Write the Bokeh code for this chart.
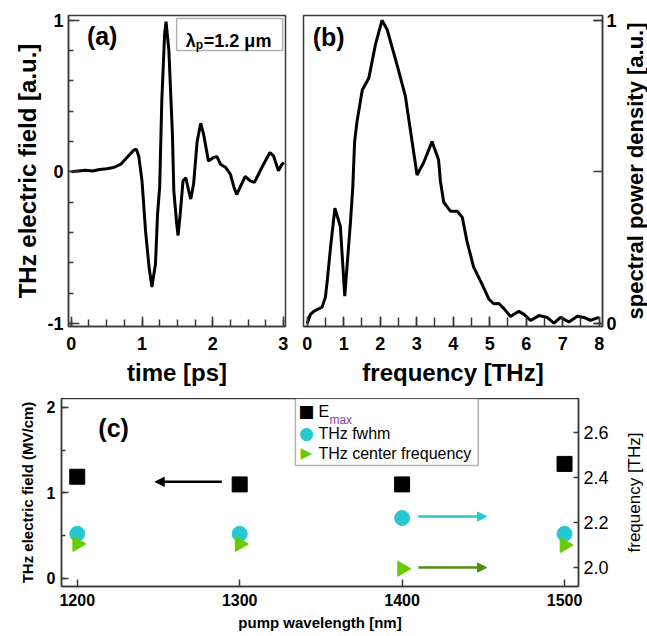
import numpy as np
from bokeh.plotting import figure
from bokeh.models import (Range1d, LinearAxis, FixedTicker, Label, Arrow, NormalHead,
                          BoxAnnotation, NumeralTickFormatter)
from bokeh.layouts import column, row
from bokeh.embed import file_html
from bokeh.resources import INLINE

# ---------------- data ----------------
# (a) THz waveform
time_ps = [0.00, 0.10, 0.20, 0.30, 0.40, 0.50, 0.60, 0.70, 0.81, 0.885, 0.92, 0.955, 1.00, 1.05,
           1.10, 1.14, 1.19, 1.22, 1.25, 1.28, 1.32, 1.34, 1.38, 1.43, 1.45, 1.49, 1.51, 1.54,
           1.58, 1.62, 1.66, 1.69, 1.73, 1.78, 1.83, 1.87, 1.94, 2.01, 2.06, 2.11, 2.18, 2.25,
           2.30, 2.34, 2.39, 2.46, 2.53, 2.59, 2.65, 2.72, 2.81, 2.86, 2.93, 2.98, 3.01]
field_au = [0.00, 0.005, 0.01, 0.005, 0.015, 0.02, 0.028, 0.05, 0.105, 0.143, 0.149, 0.10, -0.06,
            -0.39, -0.63, -0.76, -0.61, -0.28, -0.10, 0.47, 0.91, 0.99, 0.80, 0.25, -0.125, -0.34,
            -0.42, -0.28, -0.06, -0.04, -0.125, -0.18, -0.08, 0.20, 0.32, 0.25, 0.07, 0.094, 0.10,
            0.05, 0.03, -0.015, -0.10, -0.15, -0.10, -0.03, -0.06, -0.07, -0.015, 0.05, 0.127,
            0.105, 0.007, 0.05, 0.06]

# (b) spectrum
freq_thz = [0.00, 0.09, 0.18, 0.41, 0.50, 0.55, 0.64, 0.76, 0.91, 1.03, 1.10, 1.19, 1.25, 1.30,
            1.37, 1.51, 1.69, 1.87, 2.05, 2.19, 2.47, 2.69, 3.01, 3.19, 3.42, 3.60, 3.65, 3.74,
            3.93, 4.11, 4.25, 4.38, 4.56, 4.79, 4.98, 5.11, 5.25, 5.39, 5.57, 5.80, 5.94, 6.12,
            6.35, 6.57, 6.76, 6.94, 7.17, 7.40, 7.58, 7.76, 7.99]
psd_au = [0.00, 0.03, 0.04, 0.054, 0.087, 0.14, 0.25, 0.38, 0.32, 0.09, 0.20, 0.34, 0.45, 0.60,
          0.67, 0.77, 0.81, 0.92, 1.00, 0.97, 0.85, 0.75, 0.49, 0.53, 0.60, 0.54, 0.47, 0.40,
          0.37, 0.37, 0.35, 0.27, 0.186, 0.13, 0.08, 0.065, 0.066, 0.049, 0.023, 0.04, 0.03,
          0.01, 0.026, 0.02, 0.001, 0.02, 0.005, 0.024, 0.02, 0.01, 0.02]

# (c) pump wavelength scan
wavelength_nm = [1200, 1300, 1400, 1500]
emax_mv_cm = [1.19, 1.10, 1.10, 1.34]
fwhm_thz = [2.15, 2.15, 2.22, 2.15]
center_thz = [2.105, 2.105, 1.995, 2.10]

legend_labels = ["E", "THz fwhm", "THz center frequency"]
legend_symbols = ["■", "●", "▶"]

# arrows (x_start, x_end, y)
arrow_emax = (1289, 1248, 1.13)
arrow_fwhm = (1410, 1452, 2.227)
arrow_center = (1410, 1452, 2.0)

# ---------------- style ----------------
FONT = "Liberation Sans"
FRAME = "#3a3a3a"
CYAN = "#26c9d1"
GREEN = "#66cc00"
DGREEN = "#4e8f0c"


def style_axis(ax, label_size, label_style, tick_size, tick_style, major_in, minor_in,
               label_standoff, tick_standoff):
    ax.axis_line_color = FRAME
    ax.axis_line_width = 1.5
    ax.major_tick_line_color = FRAME
    ax.minor_tick_line_color = FRAME
    ax.major_tick_line_width = 1.5
    ax.minor_tick_line_width = 1.5
    ax.major_tick_in = major_in
    ax.major_tick_out = 0
    ax.minor_tick_in = minor_in
    ax.minor_tick_out = 0
    ax.major_label_text_font = FONT
    ax.major_label_text_font_size = tick_size
    ax.major_label_text_font_style = tick_style
    ax.major_label_text_color = "black"
    ax.major_label_standoff = tick_standoff
    ax.axis_label_text_font = FONT
    ax.axis_label_text_font_size = label_size
    ax.axis_label_text_font_style = label_style
    ax.axis_label_text_color = "black"
    ax.axis_label_standoff = label_standoff


def base(p):
    p.xgrid.visible = False
    p.ygrid.visible = False
    p.outline_line_color = FRAME
    p.outline_line_width = 1.5
    p.background_fill_color = "white"
    p.border_fill_color = "white"


def txt(p, **kw):
    kw.setdefault("text_font", FONT)
    kw.setdefault("text_color", "black")
    p.add_layout(Label(**kw))


def side_title(text, width, height, top, bottom, size, style):
    """Narrow strip whose only content is an axis title reading bottom to top,
    used for the right-hand titles of panels (b) and (c)."""
    s = figure(width=width, height=height, x_range=Range1d(0, 1), y_range=Range1d(0, 1),
               output_backend="svg", toolbar_location=None, x_axis_location=None,
               y_axis_location="left", min_border_left=width - 1, min_border_right=0,
               min_border_top=top, min_border_bottom=bottom)
    s.xgrid.visible = False
    s.ygrid.visible = False
    s.outline_line_color = None
    s.background_fill_color = "white"
    s.border_fill_color = "white"
    ax = s.yaxis[0]
    ax.ticker = FixedTicker(ticks=[], minor_ticks=[])
    ax.axis_line_color = None
    ax.major_tick_line_color = None
    ax.minor_tick_line_color = None
    ax.major_label_text_font_size = "0px"
    ax.axis_label = text
    ax.axis_label_text_font = FONT
    ax.axis_label_text_font_size = size
    ax.axis_label_text_font_style = style
    ax.axis_label_text_color = "black"
    ax.axis_label_standoff = 0
    return s


# ---------------- panel (a) ----------------
H1 = 398
pa = figure(width=298, height=H1, x_range=Range1d(-0.04, 3.03), y_range=Range1d(-1.02, 1.03),
            output_backend="svg", toolbar_location=None,
            min_border_left=68, min_border_right=13, min_border_top=15, min_border_bottom=72)
base(pa)
pa.line(time_ps, field_au, line_width=3, color="black")
pa.xaxis.ticker = FixedTicker(ticks=[0, 1, 2, 3], minor_ticks=list(np.arange(0, 3.01, 0.25)))
pa.yaxis.ticker = FixedTicker(ticks=[-1, 0, 1], minor_ticks=list(np.arange(-1, 1.01, 0.2)))
pa.yaxis.major_label_overrides = {-1: "-1"}
pa.xaxis.axis_label = "time [ps]"
pa.yaxis.axis_label = "THz electric field [a.u.]"
style_axis(pa.xaxis[0], "24px", "bold", "18px", "bold", 10, 7, 6, 10)
style_axis(pa.yaxis[0], "24px", "bold", "18px", "bold", 11, 5, 3, 5)
txt(pa, x=0.22, y=0.99, text="(a)", text_font_size="25px", text_font_style="bold",
    text_baseline="top")
pa.add_layout(BoxAnnotation(left=1.49, right=2.99, top=1.01, bottom=0.80, fill_color="white",
                            fill_alpha=1.0, line_color="black", line_width=1.5))
txt(pa, x=1.62, y=0.862, text="λ", text_font_size="18px", text_font_style="bold",
    text_baseline="alphabetic")
txt(pa, x=1.62, y=0.862, x_offset=10, y_offset=-4, text="p", text_font_size="12px",
    text_font_style="bold", text_baseline="alphabetic")
txt(pa, x=1.62, y=0.862, x_offset=18, text="=1.2 μm", text_font_size="18px",
    text_font_style="bold", text_baseline="alphabetic")

# ---------------- panel (b) ----------------
pb = figure(width=324, height=H1, x_range=Range1d(-0.1, 8.09), y_range=Range1d(-0.01, 1.016),
            output_backend="svg", toolbar_location=None, y_axis_location="right",
            min_border_left=5, min_border_right=20, min_border_top=15, min_border_bottom=72)
base(pb)
pb.line(freq_thz, psd_au, line_width=3, color="black")
pb.xaxis.ticker = FixedTicker(ticks=list(range(0, 9)), minor_ticks=list(np.arange(0, 8.01, 0.5)))
pb.yaxis.ticker = FixedTicker(ticks=[0, 1], minor_ticks=[0, 0.5, 1])
pb.xaxis.axis_label = "frequency [THz]"
style_axis(pb.xaxis[0], "24px", "bold", "18px", "bold", 10, 9, 6, 10)
style_axis(pb.yaxis[0], "22px", "bold", "18px", "bold", 9, 9, 4, 4)
txt(pb, x=0.15, y=0.99, text="(b)", text_font_size="25px", text_font_style="bold",
    text_baseline="top")
sb = side_title("spectral power density [a.u.]", 25, H1, 15, 72, "22px", "bold")

# ---------------- panel (c) ----------------
H2 = 237
pc = figure(width=612, height=H2, x_range=Range1d(1190.3, 1508.6),
            y_range=Range1d(-0.094, 2.105), output_backend="svg", toolbar_location=None,
            min_border_left=61, min_border_right=34, min_border_top=0, min_border_bottom=49)
base(pc)
pc.extra_y_ranges = {"freq": Range1d(1.916, 2.751)}
right_ax = LinearAxis(y_range_name="freq")
pc.add_layout(right_ax, "right")
pc.xaxis.ticker = FixedTicker(ticks=wavelength_nm, minor_ticks=[])
pc.yaxis[0].ticker = FixedTicker(ticks=[0, 1, 2], minor_ticks=[0, 0.5, 1, 1.5, 2])
right_ax.ticker = FixedTicker(ticks=[2.0, 2.2, 2.4, 2.6], minor_ticks=[])
right_ax.formatter = NumeralTickFormatter(format="0.0")
pc.xaxis.axis_label = "pump wavelength [nm]"
pc.yaxis[0].axis_label = "THz electric field (MV/cm)"
style_axis(pc.xaxis[0], "15px", "bold", "16px", "bold", 7, 0, 5, 7)
style_axis(pc.yaxis[0], "15px", "bold", "16px", "bold", 7, 4, 8, 6)
style_axis(right_ax, "17px", "normal", "18px", "normal", 5, 0, 12, 5)
sc = side_title("frequency [THz]", 32, H2, 0, 49, "17px", "normal")

r_e = pc.scatter(wavelength_nm, emax_mv_cm, marker="square", size=15, color="black")
r_f = pc.scatter(wavelength_nm, fwhm_thz, marker="circle", size=15, color=CYAN,
                 y_range_name="freq")
r_c = pc.scatter(wavelength_nm, center_thz, marker="triangle", angle=-np.pi / 2, size=15,
                 color=GREEN, y_range_name="freq")

pc.add_layout(Arrow(end=NormalHead(size=9, fill_color="black", line_color="black"),
                    x_start=arrow_emax[0], x_end=arrow_emax[1], y_start=arrow_emax[2],
                    y_end=arrow_emax[2], line_width=2.5, line_color="black"))
pc.add_layout(Arrow(end=NormalHead(size=9, fill_color=CYAN, line_color=CYAN),
                    x_start=arrow_fwhm[0], x_end=arrow_fwhm[1], y_start=arrow_fwhm[2],
                    y_end=arrow_fwhm[2], line_width=2.5, line_color=CYAN,
                    y_range_name="freq"))
pc.add_layout(Arrow(end=NormalHead(size=9, fill_color=DGREEN, line_color=DGREEN),
                    x_start=arrow_center[0], x_end=arrow_center[1], y_start=arrow_center[2],
                    y_end=arrow_center[2], line_width=2.5, line_color=DGREEN,
                    y_range_name="freq"))

# legend box (drawn by hand so the keys keep their size and E gets a subscript)
LEG_X = 1334.3
leg_rows = [1.953, 1.696, 1.462]
leg_colors = ["black", CYAN, GREEN]
leg_sizes = ["17px", "17px", "15px"]
pc.add_layout(BoxAnnotation(left=LEG_X, right=1446.9, top=2.105, bottom=1.322,
                            fill_color="white", fill_alpha=1.0, line_color="black",
                            line_width=1.5))
for sym, lab, yy, col, sz in zip(legend_symbols, legend_labels, leg_rows, leg_colors, leg_sizes):
    txt(pc, x=LEG_X, y=yy, x_offset=11, text=sym, text_font="DejaVu Sans", text_color=col,
        text_font_size=sz, text_align="center", text_baseline="middle")
    txt(pc, x=LEG_X, y=yy, x_offset=23, text=lab, text_font_size="16px",
        text_baseline="middle")
txt(pc, x=LEG_X, y=leg_rows[0], x_offset=34, y_offset=-9, text="max", text_font_size="12px",
    text_color="#8a3f9a", text_baseline="middle")
txt(pc, x=1213, y=1.92, text="(c)", text_font_size="25px", text_font_style="bold",
    text_baseline="top")

layout = column(row(pa, pb, sb), row(pc, sc))
open("out.html", "w").write(file_html(layout, INLINE))
